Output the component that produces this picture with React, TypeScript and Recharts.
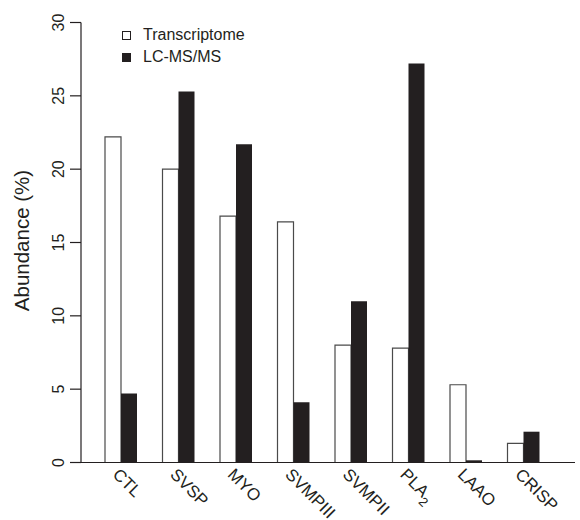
import { Bar, BarChart, XAxis, YAxis } from "recharts";

const categories = ["CTL", "SVSP", "MYO", "SVMPIII", "SVMPII", "PLA2", "LAAO", "CRISP"];
const transcriptome = [22.2, 20.0, 16.8, 16.4, 8.0, 7.8, 5.3, 1.3];
const lcmsms = [4.7, 25.3, 21.7, 4.1, 11.0, 27.2, 0.15, 2.1];
const yTicks = [0, 5, 10, 15, 20, 25, 30];
const seriesNames = ["Transcriptome", "LC-MS/MS"];

const data = categories.map((name, i) => ({
  name,
  transcriptome: transcriptome[i],
  lcmsms: lcmsms[i],
}));

const INK = "#231f20";
const FONT = "'Liberation Sans', Arial, Helvetica, sans-serif";

function XTick({ x, y, payload }: any) {
  const v: string = payload.value;
  return (
    <g transform={`translate(${x - 9},${y + 5}) rotate(45)`}>
      <text x={0} y={0} textAnchor="start" fill={INK} fontSize={17} fontFamily={FONT}>
        {v === "PLA2" ? (
          <>
            PLA
            <tspan dy={6} fontSize={13}>
              2
            </tspan>
          </>
        ) : (
          v
        )}
      </text>
    </g>
  );
}

function YTick({ x, y, payload }: any) {
  return (
    <text
      transform={`translate(${x - 4},${y}) rotate(-90)`}
      textAnchor="middle"
      fill={INK}
      fontSize={16}
      fontFamily={FONT}
    >
      {payload.value}
    </text>
  );
}

function YLabel({ viewBox }: any) {
  const cy = viewBox.y + viewBox.height / 2;
  return (
    <text
      transform={`translate(29,${cy - 2}) rotate(-90)`}
      textAnchor="middle"
      fill={INK}
      fontSize={20.5}
      fontFamily={FONT}
    >
      Abundance (%)
    </text>
  );
}

function LegendBox() {
  const fills = ["#fff", INK];
  return (
    <svg width={160} height={50} style={{ position: "absolute", left: 118, top: 27, overflow: "visible" }}>
      {seriesNames.map((label, i) => (
        <g key={label} transform={`translate(0,${i * 22})`}>
          <rect x={4.5} y={4.5} width={8} height={8} fill={fills[i]} stroke={INK} strokeWidth={1} />
          <text x={25} y={13} fill={INK} fontSize={16} fontFamily={FONT}>
            {label}
          </text>
        </g>
      ))}
    </svg>
  );
}

export default function App() {
  return (
    <div style={{ position: "absolute", left: 0, top: 0, width: 580, height: 520, background: "#fff" }}>
      <BarChart
        width={580}
        height={520}
        data={data}
        margin={{ top: 22.5, right: 5, bottom: 0, left: 0 }}
        barGap={0}
        barSize={16}
      >
        <XAxis
          dataKey="name"
          tick={<XTick />}
          tickLine={false}
          axisLine={{ stroke: INK, strokeWidth: 1.2 }}
          padding={{ left: 11, right: 23 }}
          interval={0}
          height={57.5}
        />
        <YAxis
          width={81}
          domain={[0, 30]}
          ticks={yTicks}
          tick={<YTick />}
          tickSize={11}
          tickLine={{ stroke: INK, strokeWidth: 1.2 }}
          axisLine={{ stroke: INK, strokeWidth: 1.2 }}
          label={<YLabel />}
        />
        <Bar
          dataKey="transcriptome"
          fill="#ffffff"
          stroke="#4a4a4a"
          strokeWidth={1.2}
          isAnimationActive={false}
        />
        <Bar dataKey="lcmsms" fill={INK} isAnimationActive={false} />
      </BarChart>
      <LegendBox />
    </div>
  );
}
